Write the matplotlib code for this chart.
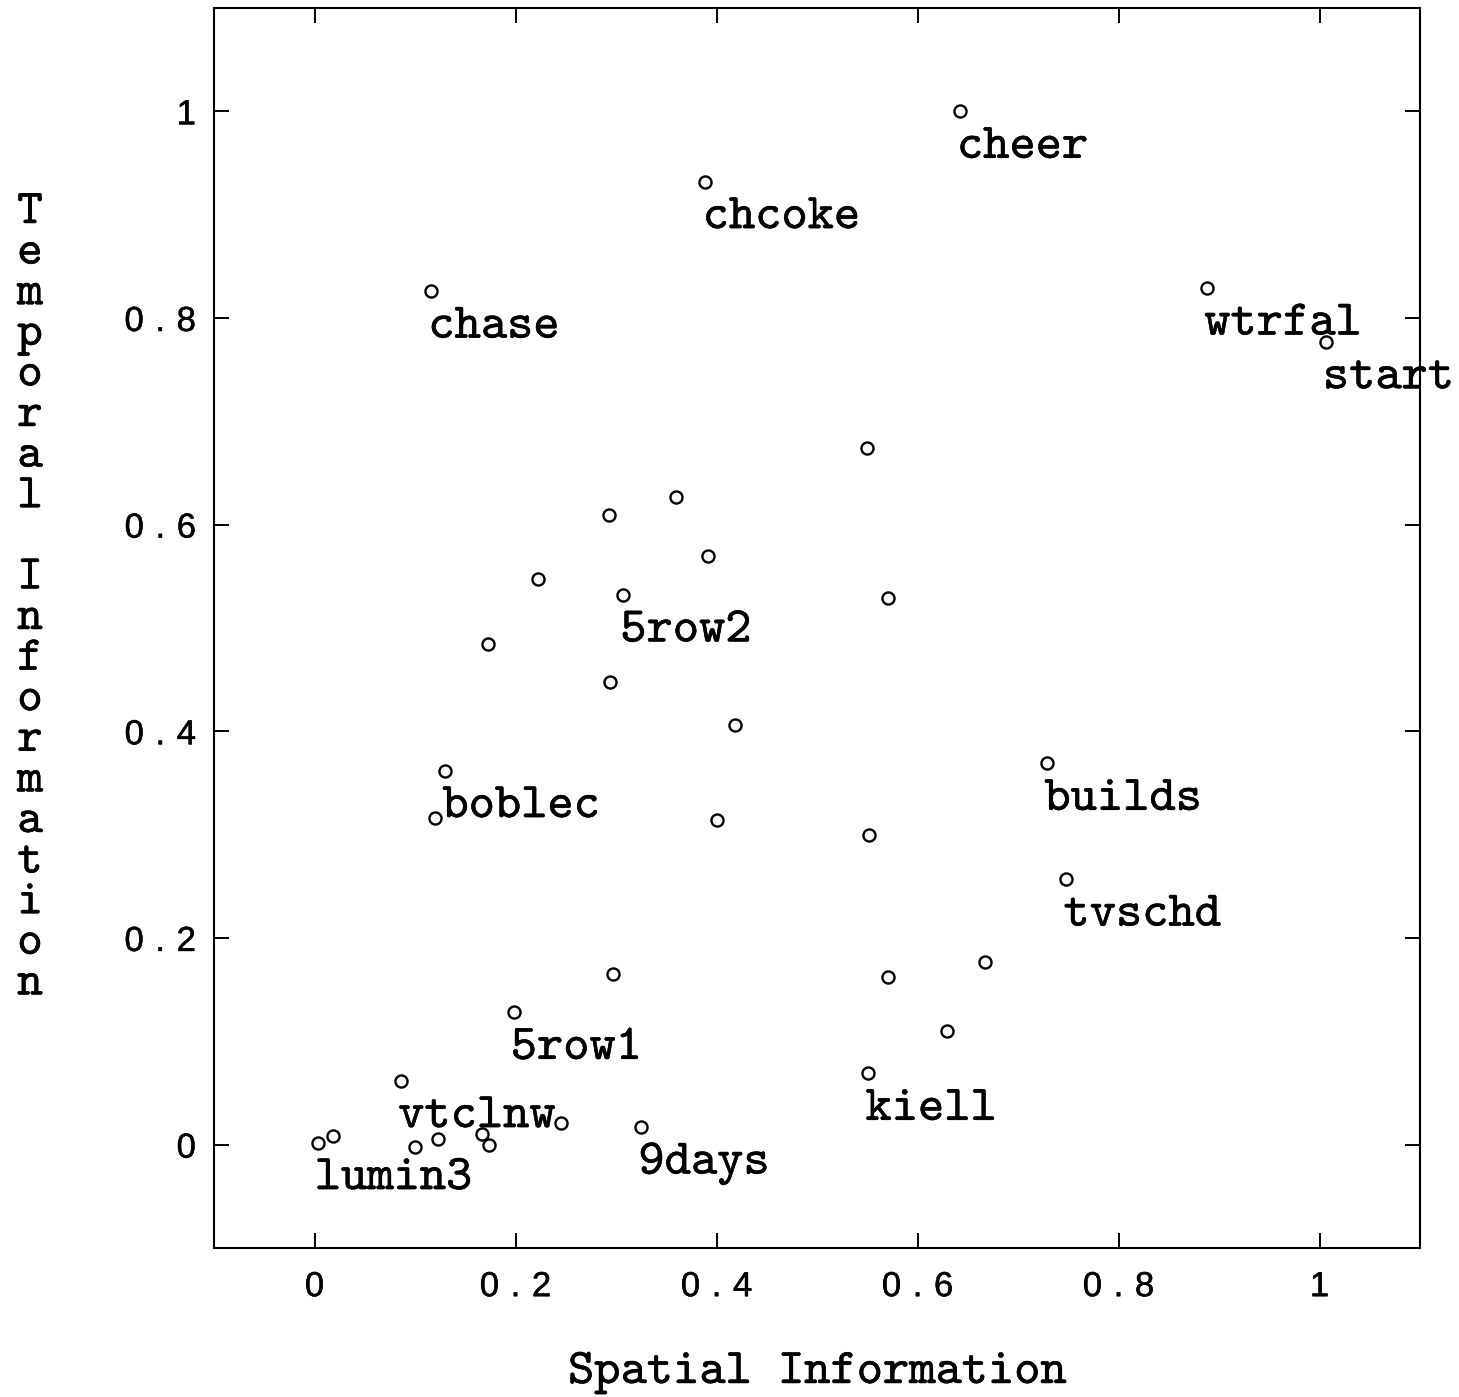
import numpy as np
import matplotlib
matplotlib.use("Agg")
import matplotlib.pyplot as plt
import matplotlib.patheffects as pe

# spatial / temporal information per clip
si = [0.642, 0.389, 0.116, 0.888, 1.006, 0.550, 0.360, 0.293, 0.392, 0.222,
      0.307, 0.571, 0.173, 0.294, 0.418, 0.130, 0.729, 0.120, 0.400, 0.552,
      0.748, 0.297, 0.667, 0.571, 0.198, 0.629, 0.086, 0.551, 0.245, 0.325,
      0.003, 0.018, 0.100, 0.123, 0.167, 0.174]
ti = [1.000, 0.932, 0.826, 0.829, 0.777, 0.674, 0.627, 0.609, 0.570, 0.547,
      0.532, 0.529, 0.484, 0.448, 0.406, 0.362, 0.369, 0.316, 0.314, 0.300,
      0.257, 0.165, 0.177, 0.162, 0.128, 0.110, 0.062, 0.069, 0.021, 0.017,
      0.002, 0.008, -0.002, 0.005, 0.010, 0.000]
names = ['cheer', 'chcoke', 'chase', 'wtrfal', 'start', '', '', '', '', '',
         '5row2', '', '', '', '', 'boblec', 'builds', '', '', '',
         'tvschd', '', '', '', '5row1', '', 'vtclnw', 'kiell', '', '9days',
         'lumin3', '', '', '', '', '']

ticks = [0, 0.2, 0.4, 0.6, 0.8, 1]
tick_text = ['0', '0.2', '0.4', '0.6', '0.8', '1']

typewriter = 'cmtt10'
digits = ['Liberation Sans', 'DejaVu Sans']
gap = '\u2004'  # widen the printout-style digit spacing
# the scanned print is a little heavier than the fonts
heavy = [pe.withStroke(linewidth=0.35, foreground='black')]

fig = plt.figure(figsize=(14.59, 13.97), dpi=100)
ax = fig.add_axes([0.1467, 0.1067, 0.8266, 0.8876])

ax.plot(si, ti, 'o', ls='none', ms=8.7, mfc='white', mec='black', mew=1.7)
for x, y, n in zip(si, ti, names):
    if n:
        ax.annotate(n, (x, y), xytext=(-2, -33.5), textcoords='offset points',
                    ha='left', va='baseline', fontsize=36, family=typewriter,
                    annotation_clip=False, path_effects=heavy)

ax.set_xlim(-0.1, 1.1)
ax.set_ylim(-0.1, 1.1)
spaced = [gap.join(t) for t in tick_text]
ax.set_xticks(ticks)
ax.set_xticklabels(spaced, family=digits, fontsize=25, path_effects=heavy)
ax.set_yticks(ticks)
ax.set_yticklabels(spaced, family=digits, fontsize=25, path_effects=heavy)
ax.tick_params(direction='in', length=11, width=1.4, top=True, right=True)
ax.tick_params(axis='x', pad=16)
ax.tick_params(axis='y', pad=13)
for s in ax.spines.values():
    s.set_linewidth(1.5)
    s.set_zorder(5)

fig.text(817 / 1459, 1 - 1383 / 1397, 'Spatial Information', ha='center',
         va='baseline', fontsize=36, family=typewriter, path_effects=heavy)

# vertical label, one letter per row
ylab = 'Temporal Information'
row0, drow = 213, 40.6
for i, ch in enumerate(ylab):
    if ch != ' ':
        fig.text(30 / 1459, 1 - (row0 + i * drow) / 1397, ch, ha='center',
                 va='center', fontsize=35, family=typewriter,
                 path_effects=heavy)

fig.savefig('out.png', dpi=100)
